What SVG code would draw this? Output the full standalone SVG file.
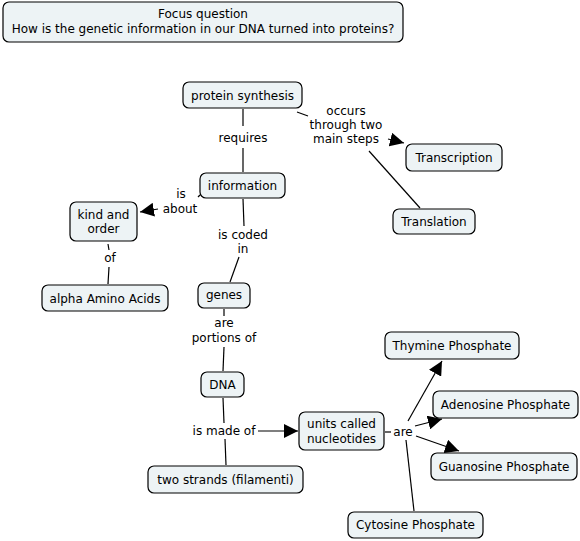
<svg xmlns="http://www.w3.org/2000/svg" width="580" height="541" viewBox="0 0 580 541">
<defs>
<style>
.n rect{fill:#edf3f5;stroke:#000;stroke-width:1.2}
text{font-family:"DejaVu Sans","Verdana",sans-serif;font-size:12px;fill:#000;text-anchor:middle}
.c line{stroke:#000;stroke-width:1.2}
.a{marker-end:url(#ah)}
</style>
<marker id="ah" viewBox="0 0 10 10" refX="10" refY="5" markerWidth="14" markerHeight="14" markerUnits="userSpaceOnUse" orient="auto">
<path d="M0,0 L10,5 L0,10 z" fill="#000"/>
</marker>
</defs>
<rect width="580" height="541" fill="#fff"/>
<g class="c" id="connectors">
<line x1="243" y1="109" x2="243" y2="126"/>
<line x1="243" y1="148" x2="243" y2="172"/>
<line x1="297" y1="112" x2="308" y2="116"/>
<line class="a" x1="388" y1="139" x2="404" y2="143"/>
<line x1="369" y1="151" x2="420" y2="208"/>
<line x1="200" y1="195" x2="198" y2="197"/>
<line class="a" x1="158" y1="209" x2="140" y2="212"/>
<line x1="243" y1="199" x2="244" y2="226"/>
<line x1="239" y1="257" x2="230" y2="282"/>
<line x1="108" y1="244" x2="109" y2="250"/>
<line x1="109" y1="267" x2="108" y2="284"/>
<line x1="224" y1="309" x2="224" y2="316"/>
<line x1="224" y1="347" x2="223" y2="371"/>
<line x1="223" y1="398" x2="224" y2="423"/>
<line x1="225" y1="439" x2="226" y2="465"/>
<line class="a" x1="258" y1="431" x2="298" y2="431"/>
<line x1="385" y1="432" x2="391" y2="432"/>
<line class="a" x1="408" y1="421" x2="442" y2="361"/>
<line class="a" x1="415" y1="426" x2="442" y2="419"/>
<line class="a" x1="416" y1="436" x2="459" y2="451"/>
<line x1="406" y1="440" x2="414" y2="511"/>
</g>
<g class="n" id="focus"><rect x="3" y="2" width="400" height="40" rx="6"/><text x="203" y="18">Focus question</text><text x="203" y="33">How is the genetic information in our DNA turned into proteins?</text></g>
<g class="n" id="protein-synthesis"><rect x="183" y="82" width="119" height="26" rx="6"/><text x="242.5" y="99.5">protein synthesis</text></g>
<g class="n" id="information"><rect x="200" y="173" width="85" height="25" rx="6"/><text x="242.5" y="190">information</text></g>
<g class="n" id="transcription"><rect x="406" y="144" width="96" height="27" rx="6"/><text x="454" y="162">Transcription</text></g>
<g class="n" id="translation"><rect x="393" y="209" width="82" height="25" rx="6"/><text x="434" y="226">Translation</text></g>
<g class="n" id="kind-order"><rect x="70" y="202" width="67" height="39" rx="6"/><text x="103.5" y="219">kind and</text><text x="103.5" y="233">order</text></g>
<g class="n" id="amino-acids"><rect x="42" y="285" width="126" height="26" rx="6"/><text x="105" y="302.5">alpha Amino Acids</text></g>
<g class="n" id="genes"><rect x="198" y="283" width="52" height="25" rx="6"/><text x="224" y="299">genes</text></g>
<g class="n" id="dna"><rect x="201" y="372" width="43" height="25" rx="6"/><text x="222.5" y="389">DNA</text></g>
<g class="n" id="nucleotides"><rect x="299" y="412" width="85" height="38" rx="6"/><text x="341.5" y="428">units called</text><text x="341.5" y="443">nucleotides</text></g>
<g class="n" id="two-strands"><rect x="148" y="466" width="155" height="27" rx="6"/><text x="225.5" y="484">two strands (filamenti)</text></g>
<g class="n" id="thymine"><rect x="385" y="332" width="134" height="27" rx="6"/><text x="452" y="350">Thymine Phosphate</text></g>
<g class="n" id="adenosine"><rect x="433" y="391" width="145" height="27" rx="6"/><text x="505.5" y="409">Adenosine Phosphate</text></g>
<g class="n" id="guanosine"><rect x="431" y="453" width="146" height="27" rx="6"/><text x="504" y="471">Guanosine Phosphate</text></g>
<g class="n" id="cytosine"><rect x="348" y="512" width="135" height="26" rx="6"/><text x="415.5" y="529">Cytosine Phosphate</text></g>
<g id="labels">
<text x="243" y="142">requires</text>
<text x="346" y="115">occurs</text><text x="346" y="129">through two</text><text x="346" y="143">main steps</text>
<text x="181" y="198">is</text><text x="180" y="213">about</text>
<text x="243" y="239">is coded</text><text x="243" y="253">in</text>
<text x="110" y="262">of</text>
<text x="224" y="327">are</text><text x="224" y="342">portions of</text>
<text x="224" y="435">is made of</text>
<text x="403" y="436">are</text>
</g>
</svg>
